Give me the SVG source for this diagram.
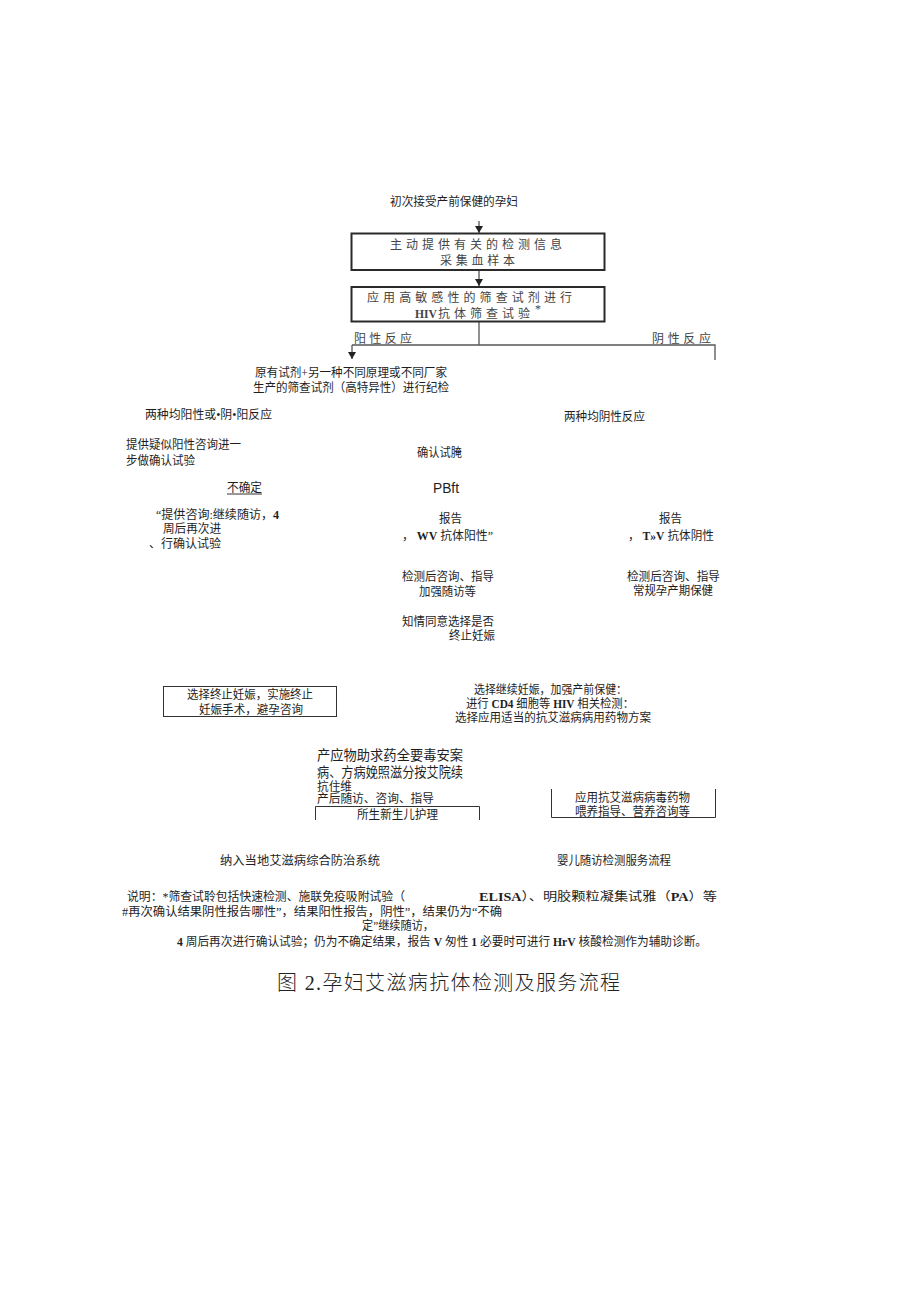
<svg xmlns="http://www.w3.org/2000/svg" width="920" height="1301" viewBox="0 0 920 1301">
<style>
text{font-family:"Liberation Serif","Noto Sans CJK SC",serif;font-size:12px;fill:#1e1e1e}
.bx{fill:#444;font-size:12px}
.b{font-weight:bold}
.s{font-family:"Liberation Sans","Noto Sans CJK SC",sans-serif;font-size:15px}
.big{font-size:13.3px}
.title{font-size:20px;fill:#222;font-weight:300}
.thick{fill:none;stroke:#2a2a2a;stroke-width:2}
.thin{fill:none;stroke:#333;stroke-width:1}
.ln{fill:none;stroke:#555;stroke-width:1.3}
</style>
<defs>
<marker id="ah" markerWidth="8" markerHeight="8" refX="7" refY="4" orient="auto" markerUnits="userSpaceOnUse">
<path d="M0,0 L7,4 L0,8 Z" fill="#222"/>
</marker>
</defs>
<rect width="920" height="1301" fill="#fff"/>

<g id="connectors">
<line class="ln" x1="479" y1="221" x2="479" y2="233" marker-end="url(#ah)"/>
<line class="ln" x1="479" y1="270" x2="479" y2="286" marker-end="url(#ah)"/>
<polyline class="ln" points="479,322 479,345"/>
<polyline class="ln" points="352,345 715,345 715,360"/>
<line class="ln" x1="352" y1="345" x2="352" y2="359" marker-end="url(#ah)"/>
</g>

<g id="start"><text x="390" y="205.5" textLength="128" lengthAdjust="spacingAndGlyphs">初次接受产前保健的孕妇</text></g>

<g id="box1">
<rect class="thick" x="351.5" y="233.5" width="253" height="36.5"/>
<text class="bx" x="390" y="248.5" textLength="172" lengthAdjust="spacing">主动提供有关的检测信息</text>
<text class="bx" x="440" y="264.5" textLength="75" lengthAdjust="spacing">采集血样本</text>
</g>

<g id="box2">
<rect class="thick" x="351.5" y="287" width="253" height="34.5"/>
<text class="bx" x="367" y="301.5" textLength="205" lengthAdjust="spacing">应用高敏感性的筛查试剂进行</text>
<text class="bx b" x="415" y="317.5" font-size="13" textLength="22" lengthAdjust="spacingAndGlyphs">HIV</text>
<text class="bx" x="438" y="317.5" textLength="92" lengthAdjust="spacing">抗体筛查试验</text>
<text class="bx" x="535" y="312.5" font-size="8">*</text>
</g>

<g id="labels">
<text class="bx" x="354" y="342.5" textLength="58" lengthAdjust="spacing">阳性反应</text>
<text class="bx" x="652" y="342.5" textLength="59" lengthAdjust="spacing">阴性反应</text>
</g>

<g id="retest">
<text x="255" y="376.5" textLength="192" lengthAdjust="spacingAndGlyphs">原有试剂+另一种不同原理或不同厂家</text>
<text x="253" y="391.5" textLength="196" lengthAdjust="spacingAndGlyphs">生产的筛查试剂（高特异性）进行纪检</text>
</g>

<g id="pos2"><text x="145" y="418.5" textLength="127" lengthAdjust="spacingAndGlyphs">两种均阳性或•阴•阳反应</text></g>
<g id="neg2"><text x="564" y="420.5" textLength="81" lengthAdjust="spacingAndGlyphs">两种均阴性反应</text></g>

<g id="suspect">
<text x="126" y="448.5" textLength="115" lengthAdjust="spacingAndGlyphs">提供疑似阳性咨询进一</text>
<text x="126" y="464.5" textLength="69" lengthAdjust="spacingAndGlyphs">步做确认试验</text>
</g>

<g id="confirm">
<text x="417" y="456.5" textLength="45" lengthAdjust="spacingAndGlyphs">确认试腌</text>
<text class="s" x="433" y="492.5" textLength="26" lengthAdjust="spacingAndGlyphs">PBft</text>
</g>

<g id="uncertain">
<text x="227" y="491.5" textLength="35" lengthAdjust="spacingAndGlyphs">不确定</text>
<line x1="227" y1="494" x2="262" y2="494" stroke="#333" stroke-width="1"/>
<text x="156" y="518.5" textLength="123" lengthAdjust="spacingAndGlyphs">“提供咨询:继续随访，<tspan class="b">4</tspan></text>
<text x="163" y="532.5" textLength="58" lengthAdjust="spacingAndGlyphs">周后再次进</text>
<text x="149" y="547.5" textLength="72" lengthAdjust="spacingAndGlyphs">、行确认试验</text>
</g>

<g id="report-pos">
<text x="439" y="522.5" textLength="23" lengthAdjust="spacingAndGlyphs">报告</text>
<text x="402" y="539.5" textLength="91" lengthAdjust="spacingAndGlyphs">， <tspan class="b">WV</tspan> 抗体阳性”</text>
</g>

<g id="report-neg">
<text x="659" y="522.5" textLength="23" lengthAdjust="spacingAndGlyphs">报告</text>
<text x="628" y="539.5" textLength="86" lengthAdjust="spacingAndGlyphs">， <tspan class="b">T»V</tspan> 抗体阴性</text>
</g>

<g id="counsel-pos">
<text x="402" y="580.5" textLength="92" lengthAdjust="spacingAndGlyphs">检测后咨询、指导</text>
<text x="419" y="595.5" textLength="57" lengthAdjust="spacingAndGlyphs">加强随访等</text>
</g>

<g id="counsel-neg">
<text x="627" y="580.5" textLength="93" lengthAdjust="spacingAndGlyphs">检测后咨询、指导</text>
<text x="633" y="594.5" textLength="80" lengthAdjust="spacingAndGlyphs">常规孕产期保健</text>
</g>

<g id="informed">
<text x="402" y="625.5" textLength="92" lengthAdjust="spacingAndGlyphs">知情同意选择是否</text>
<text x="449" y="639.5" textLength="46" lengthAdjust="spacingAndGlyphs">终止妊娠</text>
</g>

<g id="terminate">
<rect class="thin" x="163.5" y="686.5" width="173" height="30"/>
<text x="187" y="698.5" textLength="126" lengthAdjust="spacingAndGlyphs">选择终止妊娠，实施终止</text>
<text x="199" y="713.5" textLength="104" lengthAdjust="spacingAndGlyphs">妊娠手术，避孕咨询</text>
</g>

<g id="continue">
<text x="474" y="693.5" textLength="153" lengthAdjust="spacingAndGlyphs">选择继续妊娠，加强产前保健：</text>
<text x="466" y="707.5" textLength="168" lengthAdjust="spacingAndGlyphs">进行 <tspan class="b">CD4</tspan> 细胞等 <tspan class="b">HIV</tspan> 相关检测：</text>
<text x="455" y="721.5" textLength="196" lengthAdjust="spacingAndGlyphs">选择应用适当的抗艾滋病病用药物方案</text>
</g>

<g id="delivery">
<text class="big" x="317" y="759.5" textLength="146" lengthAdjust="spacingAndGlyphs">产应物助求药全要毒安案</text>
<text class="big" x="317" y="776.5" textLength="146" lengthAdjust="spacingAndGlyphs">病、方病娩照滋分按艾院续</text>
<text x="317" y="791" textLength="35" lengthAdjust="spacingAndGlyphs">抗住维</text>
<text x="317" y="803" textLength="117" lengthAdjust="spacingAndGlyphs">产后随访、咨询、指导</text>
</g>

<g id="newborn">
<polyline class="thin" points="315.5,820 315.5,806.5 479.5,806.5 479.5,820"/>
<text x="357" y="818.5" textLength="81" lengthAdjust="spacingAndGlyphs">所生新生儿护理</text>
</g>

<g id="drug">
<polyline class="thin" points="551.5,789 551.5,817.5 715.5,817.5 715.5,789"/>
<text x="575" y="801.5" textLength="115" lengthAdjust="spacingAndGlyphs">应用抗艾滋病病毒药物</text>
<text x="575" y="815.5" textLength="115" lengthAdjust="spacingAndGlyphs">喂养指导、营养咨询等</text>
</g>

<g id="system"><text x="220" y="864.5" textLength="160" lengthAdjust="spacingAndGlyphs">纳入当地艾滋病综合防治系统</text></g>
<g id="infant"><text x="557" y="864.5" textLength="114" lengthAdjust="spacingAndGlyphs">婴儿随访检测服务流程</text></g>

<g id="notes">
<text x="127" y="900.5" textLength="278" lengthAdjust="spacingAndGlyphs">说明：*筛查试聆包括快速检测、施联免疫吸附试验（</text>
<text x="479" y="900.5" textLength="238" lengthAdjust="spacingAndGlyphs"><tspan class="b">ELISA</tspan>）、明胶颗粒凝集试雅（<tspan class="b">PA</tspan>）等</text>
<text x="122" y="915.5" textLength="380" lengthAdjust="spacingAndGlyphs">#再次确认结果阴性报告哪性”，结果阳性报告，阴性”，结果仍为“不确</text>
<text x="362" y="930" textLength="72" lengthAdjust="spacingAndGlyphs">定”继续随访，</text>
<text x="177" y="945.5" textLength="530" lengthAdjust="spacingAndGlyphs"><tspan class="b">4</tspan> 周后再次进行确认试验；仍为不确定结果，报告 <tspan class="b">V</tspan> 匆性 <tspan class="b">1</tspan> 必要时可进行 <tspan class="b">HrV</tspan> 核酸检测作为辅助诊断。</text>
</g>

<g id="caption"><text class="title" x="277" y="990" textLength="343" lengthAdjust="spacing">图 2.孕妇艾滋病抗体检测及服务流程</text></g>
</svg>
